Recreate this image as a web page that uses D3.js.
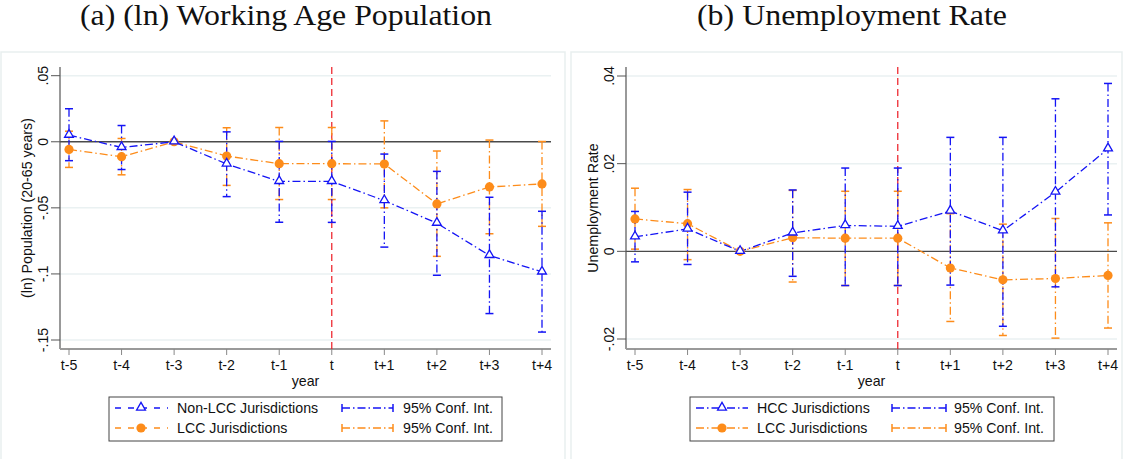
<!DOCTYPE html>
<html>
<head>
<meta charset="utf-8">
<script src="https://cdn.jsdelivr.net/npm/d3@7"></script>
<style>
  body { margin: 0; background: #fff; }
  svg { display: block; }
  text { font-family: "Liberation Sans", Arial, sans-serif; fill: #111; font-size: 14.2px; }
  .title { font-family: "Liberation Serif", "DejaVu Serif", serif; font-size: 29px; }
</style>
</head>
<body>
<div id="chart"></div>
<script>
// event-time periods
var periods = ["t-5", "t-4", "t-3", "t-2", "t-1", "t", "t+1", "t+2", "t+3", "t+4"];

// (a) (ln) working age population
var popNonLCC   = [0.005, -0.0043, 0, -0.0168, -0.030, -0.030, -0.0445, -0.0616, -0.086, -0.0985];
var popNonLCCHi = [0.025, 0.0123, 0, 0.0075, 0.0003, 0.0003, -0.0093, -0.0224, -0.042, -0.0526];
var popNonLCCLo = [-0.0143, -0.021, 0, -0.0415, -0.0609, -0.061, -0.0797, -0.101, -0.130, -0.144];
var popLCC      = [-0.0058, -0.0113, 0, -0.0108, -0.0166, -0.0166, -0.0168, -0.047, -0.0342, -0.0319];
var popLCCHi    = [0.008, 0.0025, 0, 0.0106, 0.0108, 0.0108, 0.0158, -0.007, 0.0013, 0.0002];
var popLCCLo    = [-0.0194, -0.025, 0, -0.033, -0.0437, -0.0437, -0.050, -0.0867, -0.0696, -0.064];
var popTicks    = [0.05, 0, -0.05, -0.1, -0.15];
var popTickLbl  = [".05", "0", "-.05", "-.1", "-.15"];

// (b) unemployment rate
var unHCC    = [0.0033, 0.0051, 0, 0.0042, 0.0059, 0.0057, 0.0092, 0.0047, 0.0135, 0.0234];
var unHCCHi  = [0.0091, 0.0135, 0, 0.014, 0.019, 0.019, 0.026, 0.026, 0.0348, 0.0383];
var unHCCLo  = [-0.0024, -0.003, 0, -0.0057, -0.0078, -0.0078, -0.0077, -0.0171, -0.0081, 0.0083];
var unLCC    = [0.0074, 0.0063, 0, 0.0031, 0.003, 0.003, -0.0038, -0.0065, -0.0062, -0.0055];
var unLCCHi  = [0.0144, 0.0141, 0, 0.0139, 0.0137, 0.0137, 0.0086, 0.0062, 0.0075, 0.0065];
var unLCCLo  = [0.0005, -0.0019, 0, -0.007, -0.0078, -0.0078, -0.016, -0.0192, -0.0198, -0.0175];
var unTicks   = [0.04, 0.02, 0, -0.02];
var unTickLbl = [".04", ".02", "0", "-.02"];

var W = 1123, H = 459;
var blue = "#1414f5", orange = "#fd8c1a", red = "#ec1a22";
var dashDot = "8,3,1.5,3";

var svg = d3.select("#chart").append("svg").attr("width", W).attr("height", H);

var panels = [
  {
    frame: [1, 565], axisX: 60, endX: 551, first: 69, last: 542,
    domain: [-0.15, 0.05], yr: [340, 75.7],
    ticks: popTicks, tickLbl: popTickLbl, tickLblX: 48,
    title: "(a) (ln) Working Age Population", titleX: 80, titleLen: 412,
    ylab: "(ln) Population (20-65 years)", ylabX: 32,
    a: { name: "Non-LCC Jurisdictions", v: popNonLCC, hi: popNonLCCHi, lo: popNonLCCLo },
    b: { name: "LCC Jurisdictions", v: popLCC, hi: popLCCHi, lo: popLCCLo },
    leg: { x0: 109, x1: 502, s0: 6, s1: 59, m: 32, t: 68, c0: 233, c1: 284, ct: 294, dash: "6,7" }
  },
  {
    frame: [571, 1122], axisX: 626, endX: 1117, first: 635, last: 1108,
    domain: [-0.02, 0.04], yr: [339, 76],
    ticks: unTicks, tickLbl: unTickLbl, tickLblX: 614,
    title: "(b) Unemployment Rate", titleX: 697, titleLen: 310,
    ylab: "Unemployment Rate", ylabX: 598,
    a: { name: "HCC Jurisdictions", v: unHCC, hi: unHCCHi, lo: unHCCLo },
    b: { name: "LCC Jurisdictions", v: unLCC, hi: unLCCHi, lo: unLCCLo },
    leg: { x0: 690, x1: 1054, s0: 6, s1: 58, m: 32, t: 67, c0: 202, c1: 256, ct: 264, dash: dashDot }
  }
];

var plotTop = 67, plotBot = 349;

panels.forEach(function(p) {
  var g = svg.append("g");

  // light frame around the graph region
  g.append("path")
    .attr("d", "M" + p.frame[0] + "," + H + "V52H" + p.frame[1] + "V" + H)
    .attr("fill", "none").attr("stroke", "#e9efef").attr("stroke-width", 1.5);

  g.append("text").attr("class", "title")
    .attr("x", p.titleX).attr("y", 25)
    .attr("textLength", p.titleLen).attr("lengthAdjust", "spacingAndGlyphs")
    .text(p.title);

  var x = d3.scalePoint().domain(periods).range([p.first, p.last]);
  var y = d3.scaleLinear().domain(p.domain).range(p.yr);

  // gridlines
  g.selectAll(".grid").data(p.ticks.filter(function(t) { return t !== 0; }))
    .enter().append("line")
    .attr("x1", p.axisX).attr("x2", p.endX)
    .attr("y1", function(d) { return y(d); }).attr("y2", function(d) { return y(d); })
    .attr("stroke", "#eaf1f2").attr("stroke-width", 1.5);

  // zero line
  g.append("line")
    .attr("x1", p.axisX).attr("x2", p.endX).attr("y1", y(0)).attr("y2", y(0))
    .attr("stroke", "#4a4a4a").attr("stroke-width", 1.4);

  // y axis
  g.append("line")
    .attr("x1", p.axisX).attr("x2", p.axisX).attr("y1", plotTop).attr("y2", plotBot)
    .attr("stroke", "#555").attr("stroke-width", 1.2);
  g.selectAll(".ytick").data(p.ticks).enter().append("line")
    .attr("x1", p.axisX - 9).attr("x2", p.axisX)
    .attr("y1", function(d) { return y(d); }).attr("y2", function(d) { return y(d); })
    .attr("stroke", "#555").attr("stroke-width", 1);
  g.selectAll(".ylbl").data(p.ticks).enter().append("text")
    .attr("transform", function(d) { return "translate(" + p.tickLblX + "," + y(d) + ") rotate(-90)"; })
    .attr("text-anchor", "middle")
    .text(function(d, i) { return p.tickLbl[i]; });
  g.append("text")
    .attr("transform", "translate(" + p.ylabX + "," + ((plotTop + plotBot) / 2) + ") rotate(-90)")
    .attr("text-anchor", "middle")
    .text(p.ylab);

  // x axis
  g.append("line")
    .attr("x1", p.axisX).attr("x2", p.endX).attr("y1", plotBot).attr("y2", plotBot)
    .attr("stroke", "#9a9a9a").attr("stroke-width", 2);
  g.selectAll(".xtick").data(periods).enter().append("line")
    .attr("x1", function(d) { return x(d); }).attr("x2", function(d) { return x(d); })
    .attr("y1", plotBot).attr("y2", plotBot + 6)
    .attr("stroke", "#888").attr("stroke-width", 1);
  g.selectAll(".xlbl").data(periods).enter().append("text")
    .attr("x", function(d) { return x(d); }).attr("y", 370)
    .attr("text-anchor", "middle")
    .text(function(d) { return d; });
  g.append("text")
    .attr("x", (p.axisX + p.endX) / 2).attr("y", 386)
    .attr("text-anchor", "middle")
    .text("year");

  // event line
  g.append("line")
    .attr("x1", x("t")).attr("x2", x("t")).attr("y1", plotTop).attr("y2", plotBot)
    .attr("stroke", red).attr("stroke-width", 1.2).attr("stroke-dasharray", "7,4");

  // confidence intervals
  function ci(s, col) {
    var idx = d3.range(periods.length).filter(function(i) { return s.hi[i] !== s.lo[i]; });
    var cg = g.append("g").attr("stroke", col).attr("stroke-width", 1.3).attr("fill", "none");
    cg.selectAll(".bar").data(idx).enter().append("line")
      .attr("x1", function(i) { return x(periods[i]); }).attr("x2", function(i) { return x(periods[i]); })
      .attr("y1", function(i) { return y(s.hi[i]); }).attr("y2", function(i) { return y(s.lo[i]); })
      .attr("stroke-dasharray", dashDot);
    ["hi", "lo"].forEach(function(k) {
      cg.selectAll(".cap" + k).data(idx).enter().append("line")
        .attr("x1", function(i) { return x(periods[i]) - 4; }).attr("x2", function(i) { return x(periods[i]) + 4; })
        .attr("y1", function(i) { return y(s[k][i]); }).attr("y2", function(i) { return y(s[k][i]); })
        .attr("stroke-width", 1.5);
    });
  }
  ci(p.b, orange);
  ci(p.a, blue);

  var line = d3.line()
    .x(function(d, i) { return x(periods[i]); })
    .y(function(d) { return y(d); });

  g.append("path").datum(p.b.v).attr("d", line)
    .attr("fill", "none").attr("stroke", orange).attr("stroke-width", 1.3).attr("stroke-dasharray", dashDot);
  g.append("path").datum(p.a.v).attr("d", line)
    .attr("fill", "none").attr("stroke", blue).attr("stroke-width", 1.3).attr("stroke-dasharray", dashDot);

  var tri = d3.symbol().type(d3.symbolTriangle).size(34);
  g.selectAll(".circ").data(p.b.v).enter().append("circle")
    .attr("cx", function(d, i) { return x(periods[i]); }).attr("cy", function(d) { return y(d); })
    .attr("r", 4.6).attr("fill", orange);
  g.selectAll(".tri").data(p.a.v).enter().append("path")
    .attr("d", tri)
    .attr("transform", function(d, i) { return "translate(" + x(periods[i]) + "," + (y(d) - 0.5) + ")"; })
    .attr("fill", "#fff").attr("stroke", blue).attr("stroke-width", 1.3);

  // legend
  var L = p.leg, r1 = 408, r2 = 428;
  g.append("rect")
    .attr("x", L.x0).attr("y", 397).attr("width", L.x1 - L.x0).attr("height", 44)
    .attr("fill", "#fff").attr("stroke", "#444").attr("stroke-width", 1);
  [[p.a, blue, r1], [p.b, orange, r2]].forEach(function(e) {
    var s = e[0], col = e[1], ry = e[2];
    g.append("line")
      .attr("x1", L.x0 + L.s0).attr("x2", L.x0 + L.s1).attr("y1", ry).attr("y2", ry)
      .attr("stroke", col).attr("stroke-width", 1.3).attr("stroke-dasharray", L.dash);
    if (col === blue) {
      g.append("path").attr("d", tri)
        .attr("transform", "translate(" + (L.x0 + L.m) + "," + (ry - 0.5) + ")")
        .attr("fill", "#fff").attr("stroke", blue).attr("stroke-width", 1.3);
    } else {
      g.append("circle").attr("cx", L.x0 + L.m).attr("cy", ry).attr("r", 4.6).attr("fill", orange);
    }
    g.append("text").attr("x", L.x0 + L.t).attr("y", ry + 5).text(s.name);

    g.append("line")
      .attr("x1", L.x0 + L.c0).attr("x2", L.x0 + L.c1).attr("y1", ry).attr("y2", ry)
      .attr("stroke", col).attr("stroke-width", 1.3).attr("stroke-dasharray", dashDot);
    [L.c0, L.c1].forEach(function(cx) {
      g.append("line")
        .attr("x1", L.x0 + cx).attr("x2", L.x0 + cx).attr("y1", ry - 4).attr("y2", ry + 4)
        .attr("stroke", col).attr("stroke-width", 1.5);
    });
    g.append("text").attr("x", L.x0 + L.ct).attr("y", ry + 5).text("95% Conf. Int.");
  });
});
</script>
</body>
</html>
